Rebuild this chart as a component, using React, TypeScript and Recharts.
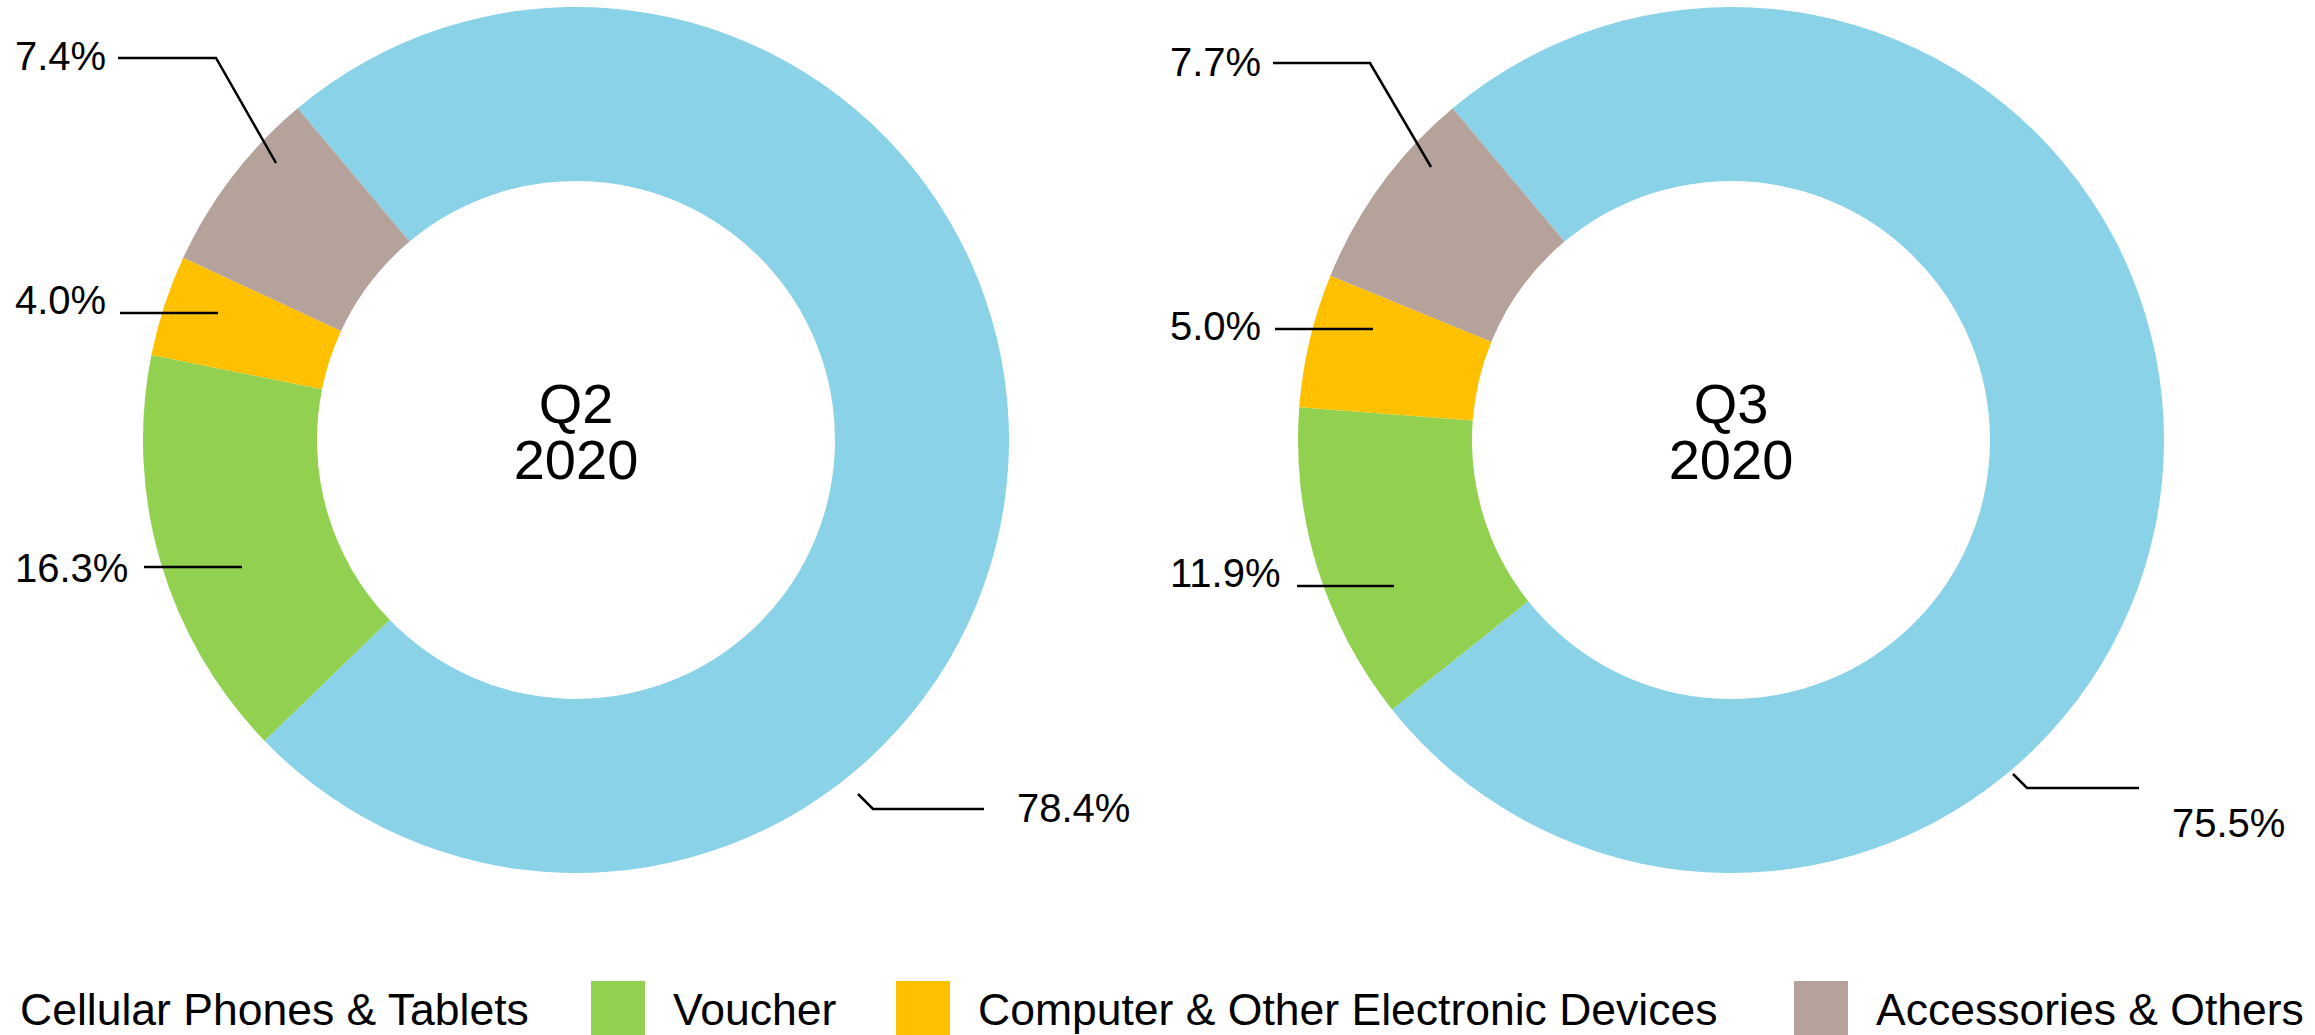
import { PieChart, Pie, Cell, Legend } from "recharts";

const categories = [
  "Cellular Phones & Tablets",
  "Voucher",
  "Computer & Other Electronic Devices",
  "Accessories & Others",
];
const colors = ["#8AD2E8", "#92D050", "#FFC000", "#B5A29B"];
const q2Values = [78.4, 16.3, 4.0, 7.4];
const q3Values = [75.5, 11.9, 5.0, 7.7];
const periods = [
  { quarter: "Q2", year: "2020" },
  { quarter: "Q3", year: "2020" },
];

const W = 2315;
const H = 1035;
const OUTER = 433;
const INNER = 259;
const FONT = "'Liberation Sans', Arial, sans-serif";

// leader line points and text spot, relative to each pie centre
type Spot = { pts: [number, number][]; tx: number; ty: number };
const q2Labels: Spot[] = [
  { pts: [[282, 354], [297, 369], [408, 369]], tx: 441, ty: 368 },
  { pts: [[-432, 127], [-334, 127]], tx: -561, ty: 128 },
  { pts: [[-456, -127], [-358, -127]], tx: -561, ty: -140 },
  { pts: [[-458, -382], [-360, -382], [-300, -277]], tx: -561, ty: -384 },
];
const q3Labels: Spot[] = [
  { pts: [[282, 334], [296, 348], [408, 348]], tx: 441, ty: 383 },
  { pts: [[-434, 146], [-337, 146]], tx: -561, ty: 133 },
  { pts: [[-456, -111], [-358, -111]], tx: -561, ty: -114 },
  { pts: [[-458, -377], [-361, -377], [-300, -273]], tx: -561, ty: -378 },
];

const legendX = [-62, 591, 896, 1794];

const toData = (values: number[]) =>
  categories.map((name, i) => ({ name, value: values[i] }));

function makeLabel(spots: Spot[], period: { quarter: string; year: string }) {
  return (props: any) => {
    const { cx, cy, index, value } = props;
    const s = spots[index];
    if (!s) return null;
    const d = s.pts
      .map(([x, y], i) => `${i === 0 ? "M" : "L"}${cx + x},${cy + y}`)
      .join(" ");
    return (
      <g key={`lbl-${index}`}>
        <path d={d} fill="none" stroke="#000" strokeWidth={2.5} />
        <text
          x={cx + s.tx}
          y={cy + s.ty + 14}
          textAnchor="start"
          fontFamily={FONT}
          fontSize={40}
          fill="#000"
        >
          {`${Number(value).toFixed(1)}%`}
        </text>
        {index === 0 && (
          <g>
            <text x={cx} y={cy - 17} textAnchor="middle" fontFamily={FONT} fontSize={56} fill="#000">
              {period.quarter}
            </text>
            <text x={cx} y={cy + 39} textAnchor="middle" fontFamily={FONT} fontSize={56} fill="#000">
              {period.year}
            </text>
          </g>
        )}
      </g>
    );
  };
}

function LegendRow() {
  return (
    <div style={{ position: "relative", width: W, height: 75 }}>
      {categories.map((c, i) => (
        <div key={c}>
          <div
            style={{
              position: "absolute",
              left: legendX[i],
              top: 21,
              width: 54,
              height: 54,
              background: colors[i],
            }}
          />
          <div
            style={{
              position: "absolute",
              left: legendX[i] + 82,
              top: 50,
              transform: "translateY(-50%)",
              whiteSpace: "nowrap",
              fontFamily: FONT,
              fontSize: 44.5,
              lineHeight: 1,
              color: "#000",
            }}
          >
            {c}
          </div>
        </div>
      ))}
    </div>
  );
}

export default function App() {
  return (
    <div
      style={{
        position: "absolute",
        left: 0,
        top: 0,
        width: W,
        height: H,
        overflow: "hidden",
        background: "#fff",
      }}
    >
      <PieChart width={W} height={H} margin={{ top: 0, right: 0, bottom: 0, left: 0 }}>
        <Pie
          data={toData(q2Values)}
          dataKey="value"
          nameKey="name"
          cx={576}
          cy={440}
          innerRadius={INNER}
          outerRadius={OUTER}
          startAngle={130}
          endAngle={-230}
          stroke="none"
          label={makeLabel(q2Labels, periods[0])}
          labelLine={false}
          isAnimationActive={false}
        >
          {q2Values.map((_, i) => (
            <Cell key={`a${i}`} fill={colors[i]} />
          ))}
        </Pie>
        <Pie
          data={toData(q3Values)}
          dataKey="value"
          nameKey="name"
          cx={1731}
          cy={440}
          innerRadius={INNER}
          outerRadius={OUTER}
          startAngle={130}
          endAngle={-230}
          stroke="none"
          label={makeLabel(q3Labels, periods[1])}
          labelLine={false}
          isAnimationActive={false}
        >
          {q3Values.map((_, i) => (
            <Cell key={`b${i}`} fill={colors[i]} />
          ))}
        </Pie>
        <Legend
          content={() => <LegendRow />}
          wrapperStyle={{ position: "absolute", left: 0, top: 960, width: W, height: 75 }}
        />
      </PieChart>
    </div>
  );
}
